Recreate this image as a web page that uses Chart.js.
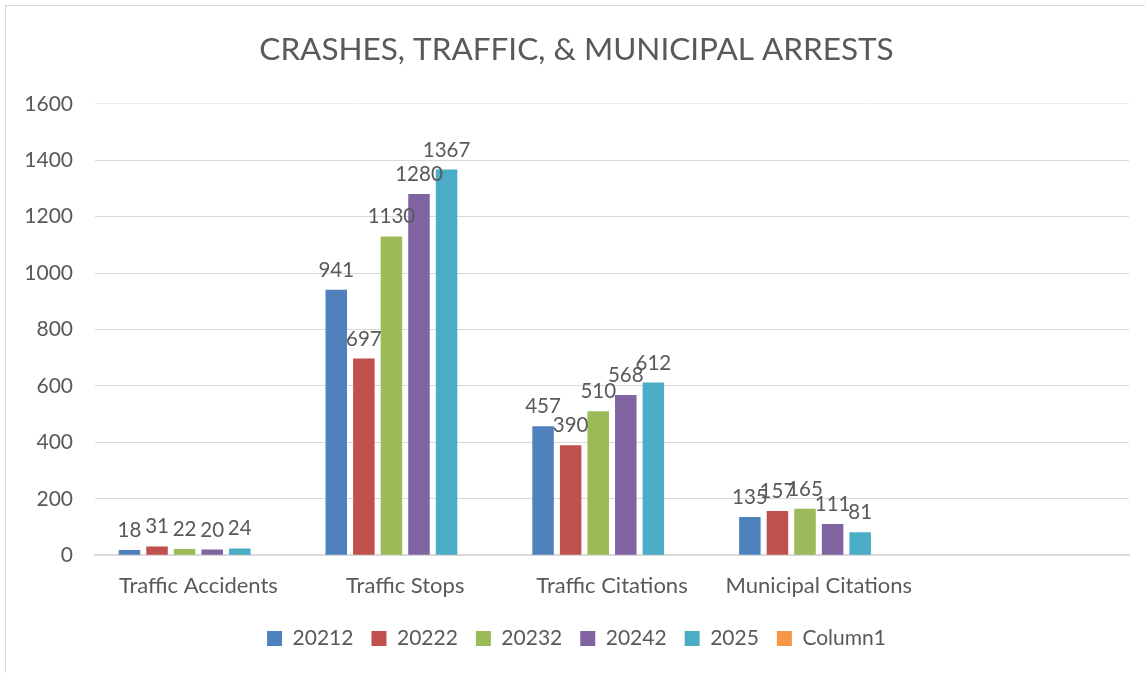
<!DOCTYPE html>
<html lang="en">
<head>
    <meta charset="UTF-8">
    <title>Crashes, Traffic, & Municipal Arrests</title>
    <script src="https://cdn.jsdelivr.net/npm/chart.js"></script>
    <style>
        html, body {
            margin: 0;
            padding: 0;
            background: #ffffff;
            overflow: hidden;
        }
        .frame {
            position: absolute;
            left: 5px;
            top: 5px;
            width: 1160px;
            height: 690px;
            border: 1px solid #d9d9d9;
        }
        .chart-box {
            position: absolute;
            left: 0;
            top: 0;
            width: 1145px;
            height: 673px;
        }
    </style>
</head>
<body>
    <div class="frame"></div>
    <div class="chart-box">
        <canvas id="myChart"></canvas>
    </div>

    <script>
        // categories (the 5th slot is empty in the original sheet)
        var categories = ['Traffic Accidents', 'Traffic Stops', 'Traffic Citations', 'Municipal Citations', ''];

        var s20212 = [18, 941, 457, 135, null];
        var s20222 = [31, 697, 390, 157, null];
        var s20232 = [22, 1130, 510, 165, null];
        var s20242 = [20, 1280, 568, 111, null];
        var s2025 = [24, 1367, 612, 81, null];
        var column1 = [null, null, null, null, null];

        var seriesNames = ['20212', '20222', '20232', '20242', '2025', 'Column1'];
        var seriesColors = ['#4F81BD', '#C0504D', '#9BBB59', '#8064A2', '#4BACC6', '#F79646'];
        var seriesData = [s20212, s20222, s20232, s20242, s2025, column1];

        var yTicks = [0, 200, 400, 600, 800, 1000, 1200, 1400, 1600];

        var textColor = '#595959';
        var fontFamily = 'Lato, "Open Sans", sans-serif';
        var padLeft = 24;

        var datasets = seriesNames.map(function (name, i) {
            return {
                label: name,
                data: seriesData[i],
                backgroundColor: seriesColors[i],
                borderWidth: 0,
                barPercentage: 0.78,
                categoryPercentage: 0.8
            };
        });

        // value labels above each bar
        var valueLabels = {
            id: 'valueLabels',
            afterDatasetsDraw: function (chart) {
                var ctx = chart.ctx;
                ctx.save();
                ctx.font = '20.5px ' + fontFamily;
                ctx.fillStyle = textColor;
                ctx.textAlign = 'center';
                ctx.textBaseline = 'alphabetic';
                chart.data.datasets.forEach(function (ds, i) {
                    var meta = chart.getDatasetMeta(i);
                    meta.data.forEach(function (bar, j) {
                        var v = ds.data[j];
                        if (v === null || v === undefined) return;
                        ctx.fillText(String(v), bar.x, bar.y - 13);
                    });
                });
                ctx.restore();
            }
        };

        var ctx = document.getElementById('myChart').getContext('2d');
        var myChart = new Chart(ctx, {
            type: 'bar',
            data: {
                labels: categories,
                datasets: datasets
            },
            plugins: [valueLabels],
            options: {
                responsive: true,
                maintainAspectRatio: false,
                animation: false,
                layout: {
                    padding: { top: 31, right: 16, bottom: 14, left: padLeft }
                },
                plugins: {
                    title: {
                        display: true,
                        text: 'CRASHES, TRAFFIC, & MUNICIPAL ARRESTS',
                        color: textColor,
                        font: { family: fontFamily, size: 31.5, weight: 'normal' },
                        padding: { top: 0, bottom: 35 }
                    },
                    legend: {
                        position: 'bottom',
                        // empty title only pushes the row down a little
                        title: { display: true, text: '', padding: 0, font: { size: 9 } },
                        labels: {
                            color: textColor,
                            font: { family: fontFamily, size: 21 },
                            boxWidth: 15,
                            boxHeight: 15,
                            padding: 18
                        }
                    },
                    tooltip: { enabled: false }
                },
                scales: {
                    x: {
                        afterFit: function (scale) {
                            scale.height = 44;
                        },
                        grid: { display: false, drawTicks: false },
                        border: { display: true, color: '#d9d9d9', width: 2 },
                        ticks: {
                            color: textColor,
                            font: { family: fontFamily, size: 22 },
                            padding: 18,
                            maxRotation: 0
                        }
                    },
                    y: {
                        min: 0,
                        max: 1600,
                        afterBuildTicks: function (scale) {
                            scale.ticks = yTicks.map(function (v) { return { value: v }; });
                        },
                        afterFit: function (scale) {
                            scale.width = 95 - padLeft;
                        },
                        grid: {
                            color: function (c) {
                                return c.tick && c.tick.value === 1600 ? '#ececec' : '#d9d9d9';
                            },
                            lineWidth: 1,
                            drawTicks: false
                        },
                        border: { display: false },
                        ticks: {
                            color: textColor,
                            font: { family: fontFamily, size: 21 },
                            padding: 22,
                            callback: function (v) { return String(v); }
                        }
                    }
                }
            }
        });
    </script>
</body>
</html>
